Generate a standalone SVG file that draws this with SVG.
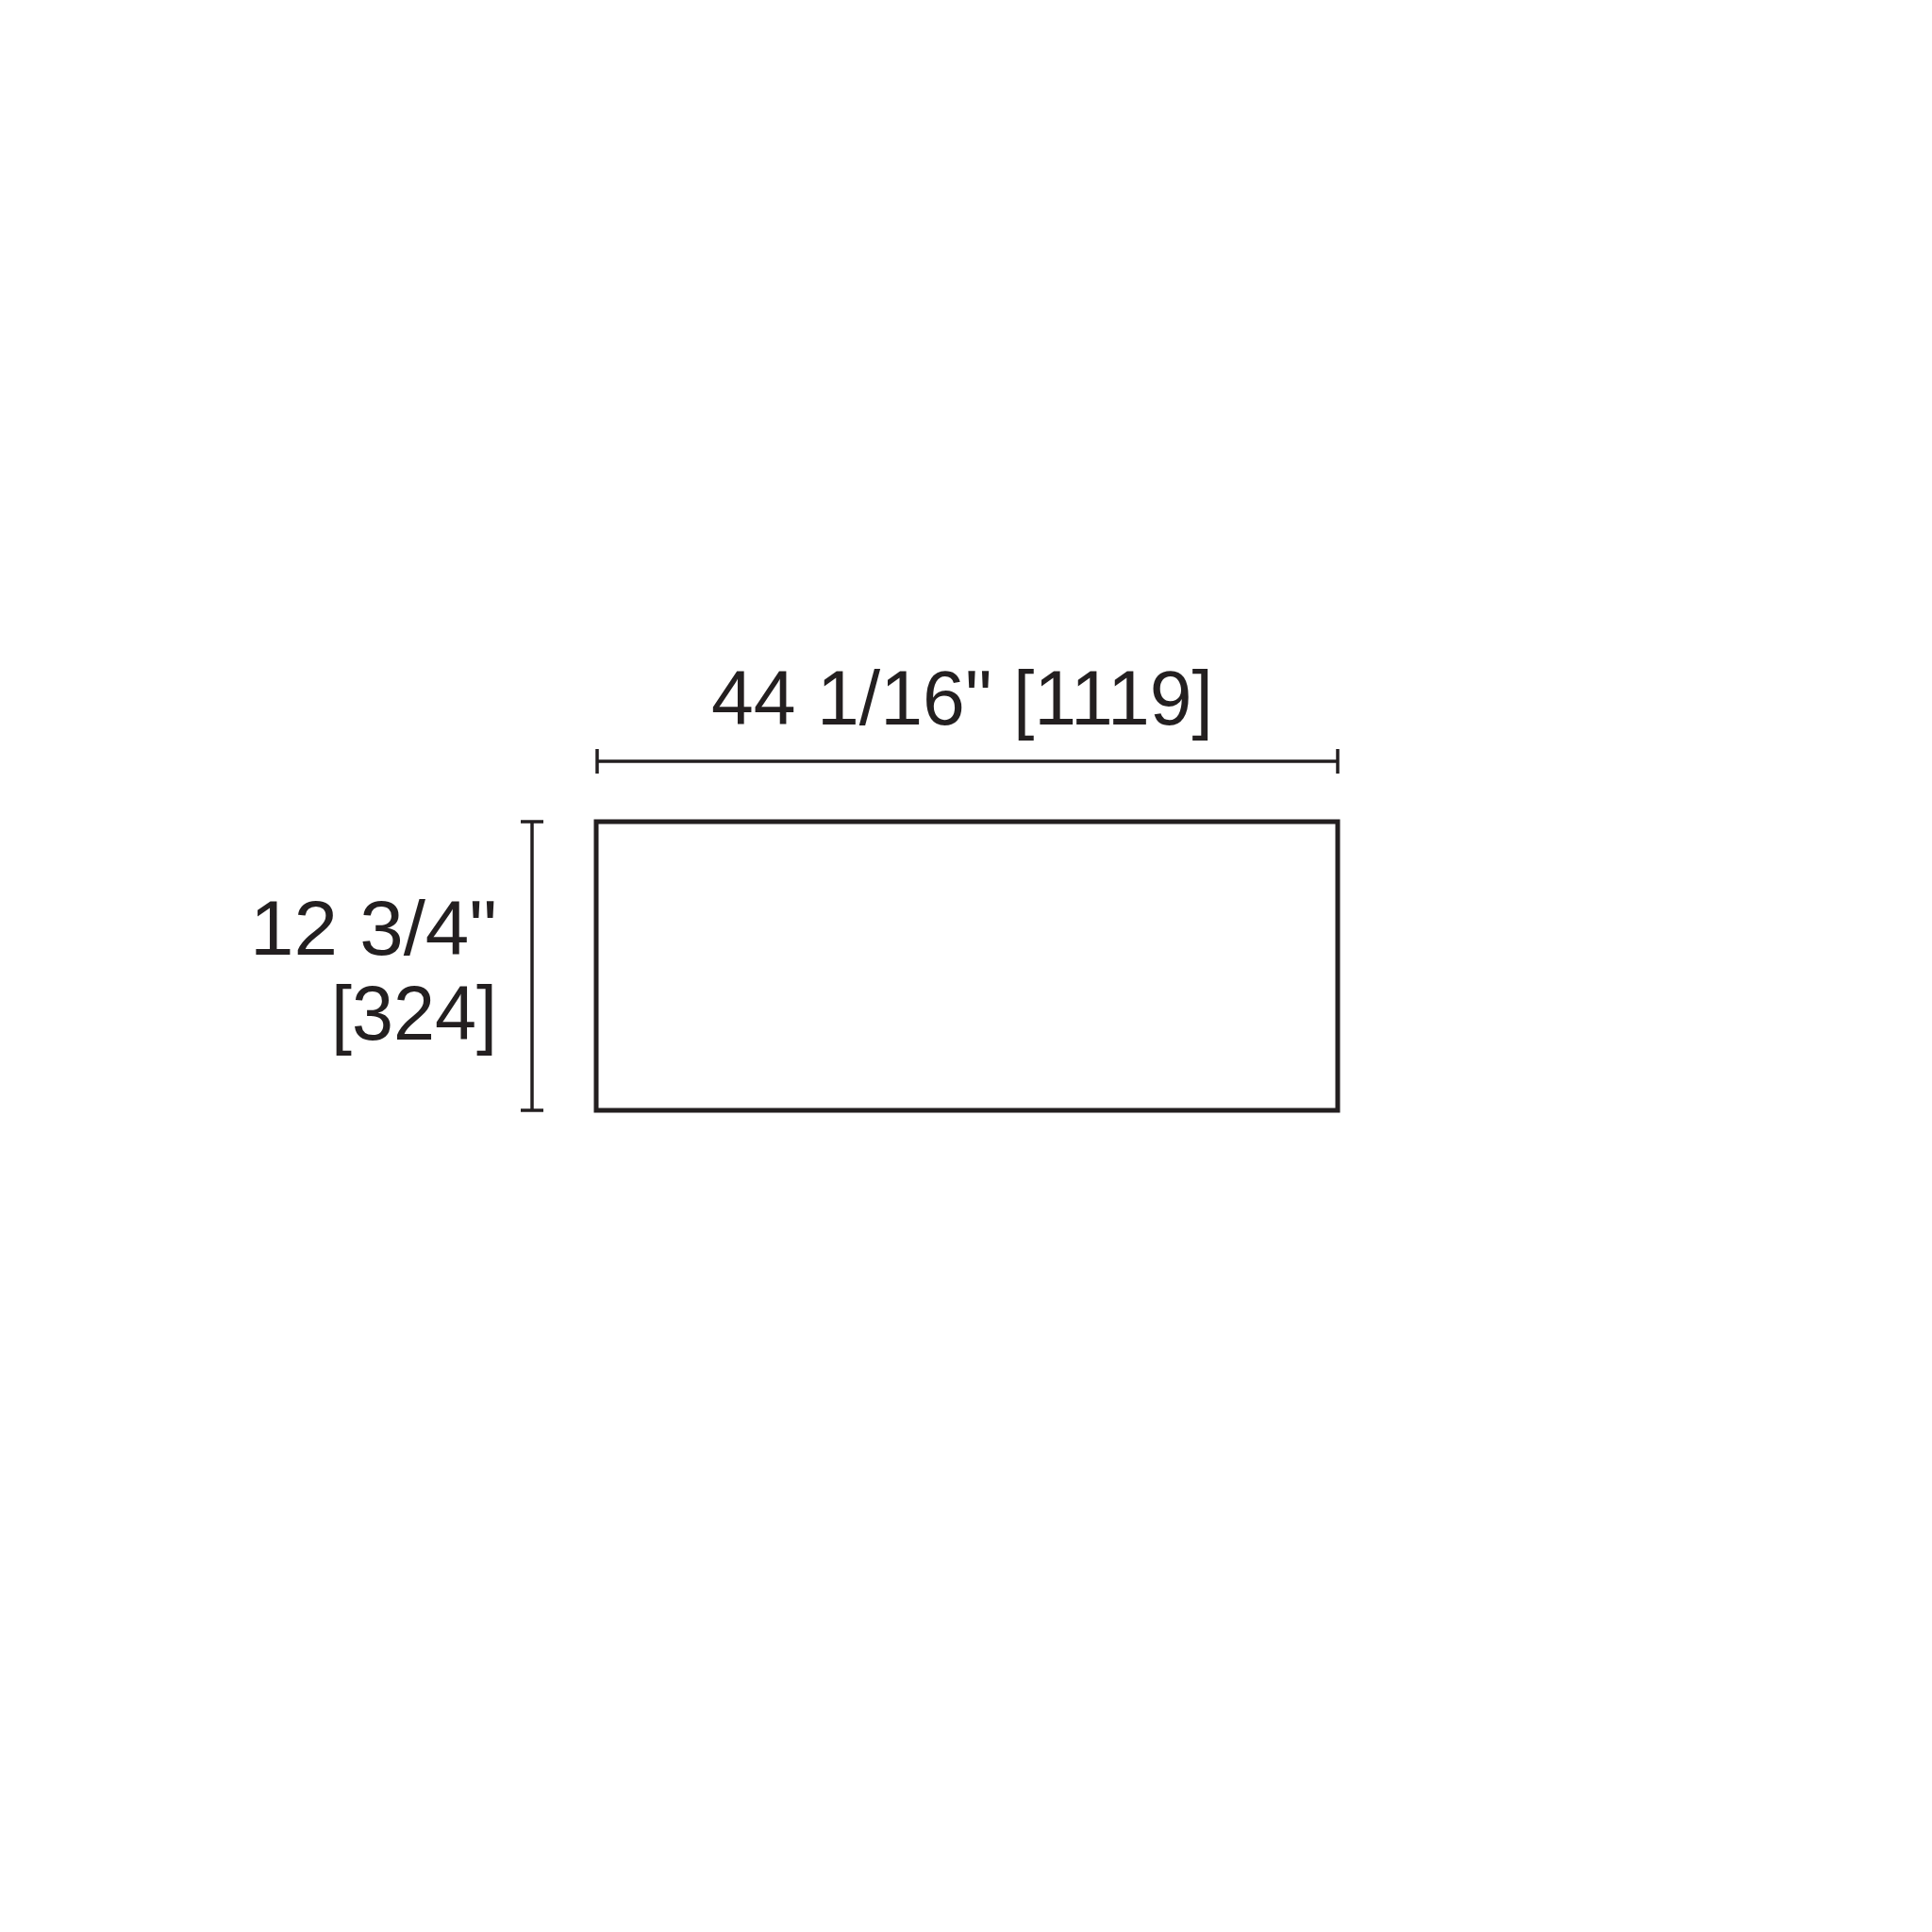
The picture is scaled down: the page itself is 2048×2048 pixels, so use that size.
<svg xmlns="http://www.w3.org/2000/svg" width="2048" height="2048" viewBox="0 0 2048 2048">
<style>
.dim{stroke:#231f20;stroke-width:3.5;fill:none}
.lbl{font-family:"Liberation Sans",Arial,sans-serif;font-size:82px;fill:#231f20}
</style>
<rect width="2048" height="2048" fill="#ffffff"/>
<g id="panel">
<rect x="632" y="871" width="786" height="306" fill="none" stroke="#231f20" stroke-width="5"/>
</g>
<g id="connectors">
<line class="dim" x1="633" y1="807" x2="1418" y2="807"/>
<line class="dim" x1="633" y1="794" x2="633" y2="820"/>
<line class="dim" x1="1418" y1="794" x2="1418" y2="820"/>
<line class="dim" x1="564" y1="871" x2="564" y2="1177"/>
<line class="dim" x1="552" y1="871" x2="576" y2="871"/>
<line class="dim" x1="552" y1="1177" x2="576" y2="1177"/>
</g>
<g id="width-label">
<text class="lbl" x="754" y="768" textLength="532" lengthAdjust="spacingAndGlyphs">44 1/16" [1119]</text>
</g>
<g id="height-label">
<text class="lbl" x="265" y="1012" textLength="262" lengthAdjust="spacingAndGlyphs">12 3/4"</text>
<text class="lbl" x="351" y="1102" textLength="176" lengthAdjust="spacingAndGlyphs">[324]</text>
</g>
</svg>
